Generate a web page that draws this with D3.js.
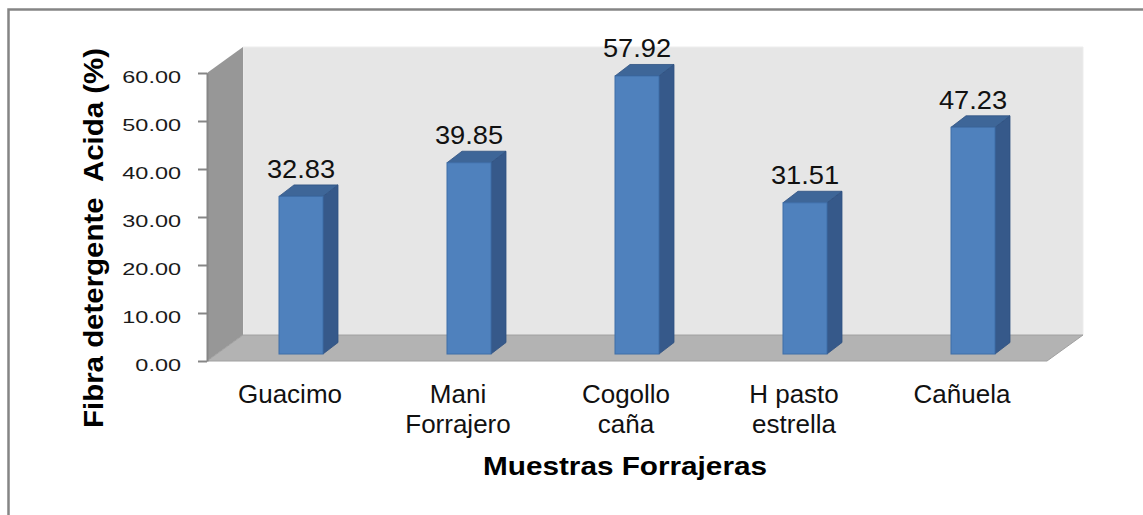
<!DOCTYPE html>
<html>
<head>
<meta charset="utf-8">
<script src="https://cdn.jsdelivr.net/npm/d3@7"></script>
<style>
  body { margin: 0; background: #fff; }
  svg { display: block; }
</style>
</head>
<body>
<div id="chart"></div>
<script>
// data
var categories = ["Guacimo", "Mani Forrajero", "Cogollo caña", "H pasto estrella", "Cañuela"];
var categoryLines = [["Guacimo"], ["Mani", "Forrajero"], ["Cogollo", "caña"], ["H pasto", "estrella"], ["Cañuela"]];
var values = [32.83, 39.85, 57.92, 31.51, 47.23];
var yTicks = [0, 10, 20, 30, 40, 50, 60];

var svgWidth = 1143;
var svgHeight = 515;

// front plane of the plot and the 3d depth offset
var plot = { left: 207, right: 1047, top: 73, bottom: 361 };
var depth = { dx: 36, dy: -26 };
var barShift = { dx: 10, dy: -7 };   // bars sit a bit inside the floor
var barDepth = { dx: 15, dy: -11.5 };

var svg = d3.select("#chart")
  .append("svg")
  .attr("width", svgWidth)
  .attr("height", svgHeight);

// outer frame (only top and left edges visible)
svg.append("path")
  .attr("d", `M8.5,${svgHeight} L8.5,9.5 L${svgWidth},9.5`)
  .attr("fill", "none")
  .attr("stroke", "#858585")
  .attr("stroke-width", 2.5);

var yScale = d3.scaleLinear()
  .domain([0, 60])
  .range([plot.bottom, plot.top]);

var xScale = d3.scaleBand()
  .domain(categories)
  .range([plot.left, plot.right])
  .paddingInner(1 - 44 / 168)
  .paddingOuter((1 - 44 / 168) / 2);

var pts = function(arr) { return arr.map(p => p.join(",")).join(" "); };

// walls and floor
var bl = [plot.left, plot.bottom], tl = [plot.left, plot.top];
var bl2 = [plot.left + depth.dx, plot.bottom + depth.dy], tl2 = [plot.left + depth.dx, plot.top + depth.dy];
var br = [plot.right, plot.bottom], br2 = [plot.right + depth.dx, plot.bottom + depth.dy];
var tr2 = [plot.right + depth.dx, plot.top + depth.dy];

svg.append("polygon")
  .attr("points", pts([tl2, tr2, br2, bl2]))
  .attr("fill", "#e6e6e6")
  .attr("stroke", "#ededed")
  .attr("stroke-width", 1);

svg.append("polygon")
  .attr("points", pts([tl, tl2, bl2, bl]))
  .attr("fill", "#979797");

svg.append("polygon")
  .attr("points", pts([bl, bl2, br2, br]))
  .attr("fill", "#b3b3b3")
  .attr("stroke", "#a0a0a0")
  .attr("stroke-width", 1);

// y axis
var leftAxis = d3.axisLeft(yScale)
  .tickValues(yTicks)
  .tickSize(9)
  .tickSizeOuter(0)
  .tickFormat(d3.format(".2f"));

var yAxisG = svg.append("g")
  .attr("transform", `translate(${plot.left}, 0)`)
  .call(leftAxis);

yAxisG.select(".domain").attr("stroke", "#868686").attr("stroke-width", 2);
yAxisG.selectAll(".tick line").attr("stroke", "#868686").attr("stroke-width", 2);
yAxisG.selectAll(".tick text")
  .attr("x", -26)
  .attr("dy", 9)
  .attr("fill", "#1a1a1a")
  .style("font-family", "'Liberation Sans', Arial, sans-serif")
  .style("font-size", "17px")
  .each(function() { stretch(this, 1.38); });

// bars
var barY = function(v) { return yScale(v) + barShift.dy; };
var barX = function(c) { return xScale(c) + barShift.dx; };
var bw = xScale.bandwidth();

var bars = svg.selectAll(".bar")
  .data(values)
  .enter()
  .append("g")
  .attr("class", "bar");

// side face
bars.append("polygon")
  .attr("points", (d, i) => {
    var x = barX(categories[i]) + bw, y0 = barY(0), y1 = barY(d);
    return pts([[x, y1], [x + barDepth.dx, y1 + barDepth.dy], [x + barDepth.dx, y0 + barDepth.dy], [x, y0]]);
  })
  .attr("fill", "#36598a")
  .attr("stroke", "#2f5180")
  .attr("stroke-width", 0.8);

// top face
bars.append("polygon")
  .attr("points", (d, i) => {
    var x = barX(categories[i]), y1 = barY(d);
    return pts([[x, y1], [x + barDepth.dx, y1 + barDepth.dy], [x + bw + barDepth.dx, y1 + barDepth.dy], [x + bw, y1]]);
  })
  .attr("fill", "#3e6698")
  .attr("stroke", "#2f5180")
  .attr("stroke-width", 0.8);

// front face
bars.append("rect")
  .attr("x", (d, i) => barX(categories[i]))
  .attr("y", d => barY(d))
  .attr("width", bw)
  .attr("height", d => barY(0) - barY(d))
  .attr("fill", "#4f81bd")
  .attr("stroke", "#3f6ea8")
  .attr("stroke-width", 1);

// value labels
svg.selectAll(".val")
  .data(values)
  .enter()
  .append("text")
  .attr("class", "val")
  .attr("x", (d, i) => barX(categories[i]) + bw / 2)
  .attr("y", d => barY(d) + barDepth.dy - 7)
  .attr("text-anchor", "middle")
  .attr("fill", "#111")
  .style("font-family", "'Liberation Sans', Arial, sans-serif")
  .style("font-size", "25px")
  .text(d => d.toFixed(2))
  .each(function() { stretch(this, 1.09); });

// category labels
var catG = svg.selectAll(".cat")
  .data(categories)
  .enter()
  .append("text")
  .attr("class", "cat")
  .attr("text-anchor", "middle")
  .attr("fill", "#111")
  .style("font-family", "'Liberation Sans', Arial, sans-serif")
  .style("font-size", "25px");

catG.selectAll("tspan")
  .data((d, i) => categoryLines[i].map(t => ({ t: t, c: d })))
  .enter()
  .append("tspan")
  .attr("x", d => xScale(d.c) + bw / 2 - 1)
  .attr("y", (d, j) => 403 + j * 30)
  .text(d => d.t)
  .each(function() { stretch(this, 1.04); });

// axis titles
svg.append("text")
  .attr("transform", "translate(103, 238) rotate(-90)")
  .attr("text-anchor", "middle")
  .attr("fill", "#000")
  .style("font-family", "'Liberation Sans', Arial, sans-serif")
  .style("font-weight", "bold")
  .style("font-size", "27px")
  .style("white-space", "pre")
  .text("Fibra detergente  Acida (%)")
  .each(function() { fitTo(this, 380); });

svg.append("text")
  .attr("x", 625)
  .attr("y", 475)
  .attr("text-anchor", "middle")
  .attr("fill", "#000")
  .style("font-family", "'Liberation Sans', Arial, sans-serif")
  .style("font-weight", "bold")
  .style("font-size", "25px")
  .text("Muestras Forrajeras")
  .each(function() { fitTo(this, 284); });

// the source picture is a little wider than its fonts, so stretch text along its line
function stretch(node, k) {
  var w = node.getComputedTextLength();
  d3.select(node).attr("textLength", w * k).attr("lengthAdjust", "spacingAndGlyphs");
}
function fitTo(node, w) {
  d3.select(node).attr("textLength", w).attr("lengthAdjust", "spacingAndGlyphs");
}
</script>
</body>
</html>
